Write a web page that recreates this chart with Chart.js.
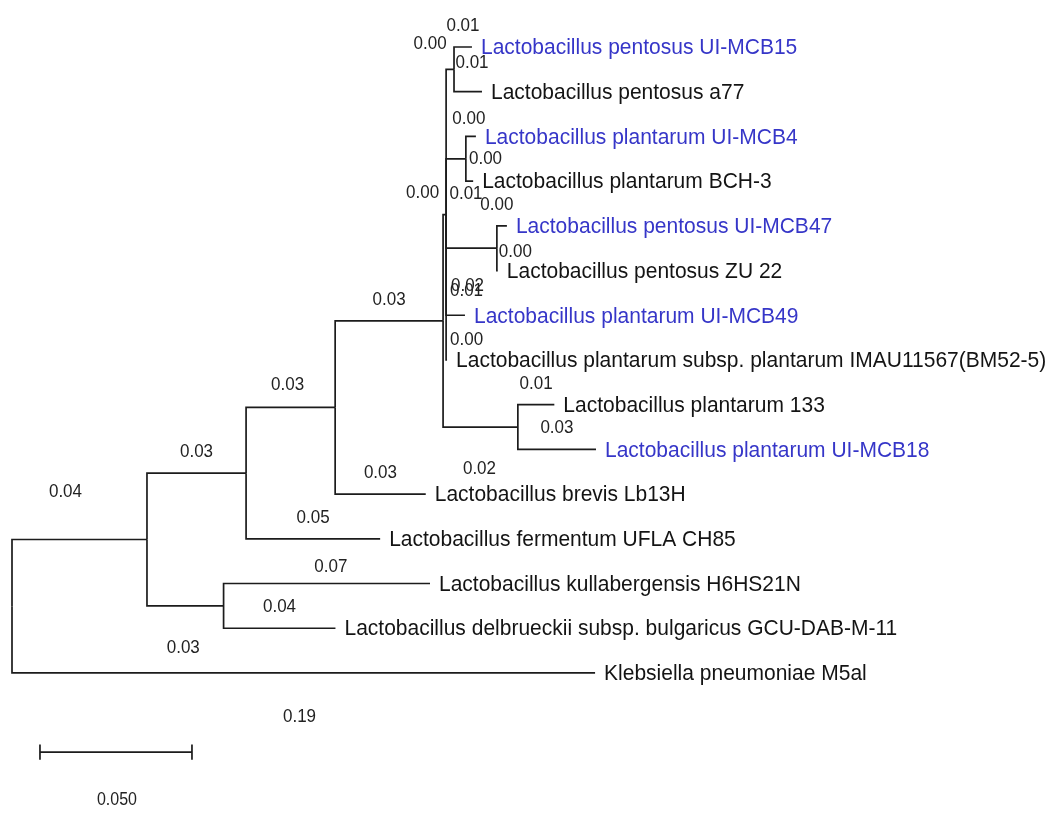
<!DOCTYPE html>
<html>
<head>
<meta charset="utf-8">
<title>Phylogenetic tree</title>
<script src="https://cdn.jsdelivr.net/npm/chart.js@4.4.1/dist/chart.umd.min.js"></script>
<style>
    html, body { margin: 0; padding: 0; background: #fff; }
    #wrap { width: 1053px; height: 813px; }
</style>
</head>
<body>
<div id="wrap"><canvas id="treeChart" width="1053" height="813"></canvas></div>
<script>
// leaves, top to bottom
const leafNames = [
    'Lactobacillus pentosus UI-MCB15',
    'Lactobacillus pentosus a77',
    'Lactobacillus plantarum UI-MCB4',
    'Lactobacillus plantarum BCH-3',
    'Lactobacillus pentosus UI-MCB47',
    'Lactobacillus pentosus ZU 22',
    'Lactobacillus plantarum UI-MCB49',
    'Lactobacillus plantarum subsp. plantarum IMAU11567(BM52-5)',
    'Lactobacillus plantarum 133',
    'Lactobacillus plantarum UI-MCB18',
    'Lactobacillus brevis Lb13H',
    'Lactobacillus fermentum UFLA CH85',
    'Lactobacillus kullabergensis H6HS21N',
    'Lactobacillus delbrueckii subsp. bulgaricus GCU-DAB-M-11',
    'Klebsiella pneumoniae M5al'
];

// isolates of this study (shown in blue)
const studyIsolates = [
    'Lactobacillus pentosus UI-MCB15',
    'Lactobacillus plantarum UI-MCB4',
    'Lactobacillus pentosus UI-MCB47',
    'Lactobacillus plantarum UI-MCB49',
    'Lactobacillus plantarum UI-MCB18'
];

// branches: child -> parent, drawn length (subst./site) and printed label
const branchChild = ['n1', 'Klebsiella pneumoniae M5al', 'n2', 'n3', 'n4', 'Lactobacillus fermentum UFLA CH85',
    'n5', 'Lactobacillus brevis Lb13H', 'n6', 'n10', 'n7', 'n8', 'n9', 'Lactobacillus plantarum UI-MCB49',
    'Lactobacillus plantarum subsp. plantarum IMAU11567(BM52-5)', 'Lactobacillus pentosus UI-MCB15',
    'Lactobacillus pentosus a77', 'Lactobacillus plantarum UI-MCB4', 'Lactobacillus plantarum BCH-3',
    'Lactobacillus pentosus UI-MCB47', 'Lactobacillus pentosus ZU 22', 'Lactobacillus plantarum 133',
    'Lactobacillus plantarum UI-MCB18', 'Lactobacillus kullabergensis H6HS21N',
    'Lactobacillus delbrueckii subsp. bulgaricus GCU-DAB-M-11'];
const branchParent = ['n0', 'n0', 'n1', 'n1', 'n2', 'n2', 'n4', 'n4', 'n5', 'n5', 'n6', 'n6', 'n6', 'n6',
    'n6', 'n7', 'n7', 'n8', 'n8', 'n9', 'n9', 'n10', 'n10', 'n3', 'n3'];
const branchLength = [0.0444, 0.1918, 0.0326, 0.0252, 0.0293, 0.0441, 0.0355, 0.0298, 0.0010, 0.0246,
    0.0026, 0.0065, 0.0167, 0.0062, 0.0003, 0.0059, 0.0092, 0.0033, 0.0024, 0.0033, 0.0003, 0.0120,
    0.0257, 0.0679, 0.0368];
const branchLabel = ['0.04', '0.19', '0.03', '0.03', '0.03', '0.05', '0.03', '0.03', '0.00', '0.02',
    '0.00', '0.01', '0.02', '0.01', '0.00', '0.01', '0.01', '0.00', '0.00', '0.00', '0.00', '0.01',
    '0.03', '0.07', '0.04'];

const scaleBarLength = 0.05;
const scaleBarLabel = '0.050';

// --- layout of the tree (x = distance from root, y = row) ---
const nodeX = { n0: 0 };
const nodeY = {};
leafNames.forEach((name, i) => { nodeY[name] = i; });

// depth, parents come before children in the branch list
branchChild.forEach((child, i) => {
    nodeX[child] = nodeX[branchParent[i]] + branchLength[i];
});

function rowOf(node) {
    if (nodeY[node] !== undefined) return nodeY[node];
    const kids = branchChild.filter((c, i) => branchParent[i] === node).map(rowOf);
    nodeY[node] = (Math.min(...kids) + Math.max(...kids)) / 2;
    return nodeY[node];
}
rowOf('n0');

const lineColor = '#1c1c1c';
const datasets = branchChild.map((child, i) => {
    const p = branchParent[i];
    return {
        data: [
            { x: nodeX[p], y: nodeY[p] },
            { x: nodeX[p], y: nodeY[child] },
            { x: nodeX[child], y: nodeY[child] }
        ],
        showLine: true,
        borderColor: lineColor,
        borderWidth: 1.7,
        pointRadius: 0,
        tension: 0
    };
});

// scale bar
const barX = 0.0092;
const barRow = 15.77;
const tick = 0.17;
datasets.push({
    data: [
        { x: barX, y: barRow - tick }, { x: barX, y: barRow + tick }, { x: barX, y: barRow },
        { x: barX + scaleBarLength, y: barRow }, { x: barX + scaleBarLength, y: barRow - tick },
        { x: barX + scaleBarLength, y: barRow + tick }
    ],
    showLine: true,
    borderColor: lineColor,
    borderWidth: 1.7,
    pointRadius: 0,
    tension: 0
});

// where branch labels sit (pixels from the branch midpoint); default is just above
const labelNudge = {
    n1: [-14, -48], 'Klebsiella pneumoniae M5al': [-4, 44], n3: [-2, 42], n4: [-3, -23],
    n6: [-22, -22], n10: [-1, 42], n7: [-20, -25], n8: [10, 35], n9: [-4, 38],
    'Lactobacillus plantarum UI-MCB49': [11, -24],
    'Lactobacillus plantarum subsp. plantarum IMAU11567(BM52-5)': [20, -20],
    'Lactobacillus pentosus a77': [4, -29], 'Lactobacillus plantarum UI-MCB4': [-2, -17],
    'Lactobacillus plantarum BCH-3': [16, -22], 'Lactobacillus pentosus UI-MCB47': [-5, -21],
    'Lactobacillus pentosus ZU 22': [18, -19], 'Lactobacillus kullabergensis H6HS21N': [4, -17]
};

// the reference text is a little taller than it is wide
function tallText(ctx, text, px, py, stretch) {
    ctx.save();
    ctx.translate(px, py);
    ctx.scale(1, stretch);
    ctx.fillText(text, 0, 0);
    ctx.restore();
}

const treeText = {
    id: 'treeText',
    afterDatasetsDraw(chart) {
        const { ctx, scales: { x, y } } = chart;
        ctx.save();
        ctx.textBaseline = 'middle';

        // leaf names
        ctx.font = '21px "Liberation Sans", Arial, sans-serif';
        ctx.textAlign = 'left';
        leafNames.forEach((name) => {
            ctx.fillStyle = studyIsolates.includes(name) ? '#3636c8' : '#141414';
            tallText(ctx, name, x.getPixelForValue(nodeX[name]) + 9, y.getPixelForValue(nodeY[name]) + 1, 1.08);
        });

        // branch lengths
        ctx.font = '17px "Liberation Sans", Arial, sans-serif';
        ctx.textAlign = 'center';
        ctx.fillStyle = '#222';
        branchChild.forEach((child, i) => {
            const p = branchParent[i];
            const nudge = labelNudge[child] || [0, -21];
            const mx = (x.getPixelForValue(nodeX[p]) + x.getPixelForValue(nodeX[child])) / 2;
            tallText(ctx, branchLabel[i], mx + nudge[0], y.getPixelForValue(nodeY[child]) + nudge[1], 1.08);
        });

        // scale bar label
        ctx.font = '16px "Liberation Sans", Arial, sans-serif';
        const bx = (x.getPixelForValue(barX) + x.getPixelForValue(barX + scaleBarLength)) / 2;
        tallText(ctx, scaleBarLabel, bx + 1, y.getPixelForValue(barRow) + 48, 1.1);
        ctx.restore();
    }
};

const pxPerUnit = 3040;
const rowPx = 44.71;
const xMin = -12 / pxPerUnit;
const yMin = -47 / rowPx;

new Chart(document.getElementById('treeChart').getContext('2d'), {
    type: 'scatter',
    data: { datasets: datasets },
    options: {
        responsive: false,
        animation: false,
        layout: { padding: 0 },
        plugins: { legend: { display: false }, tooltip: { enabled: false } },
        scales: {
            x: { type: 'linear', display: false, min: xMin, max: xMin + 1053 / pxPerUnit },
            y: { type: 'linear', display: false, reverse: true, min: yMin, max: yMin + 813 / rowPx }
        }
    },
    plugins: [treeText]
});
</script>
</body>
</html>
